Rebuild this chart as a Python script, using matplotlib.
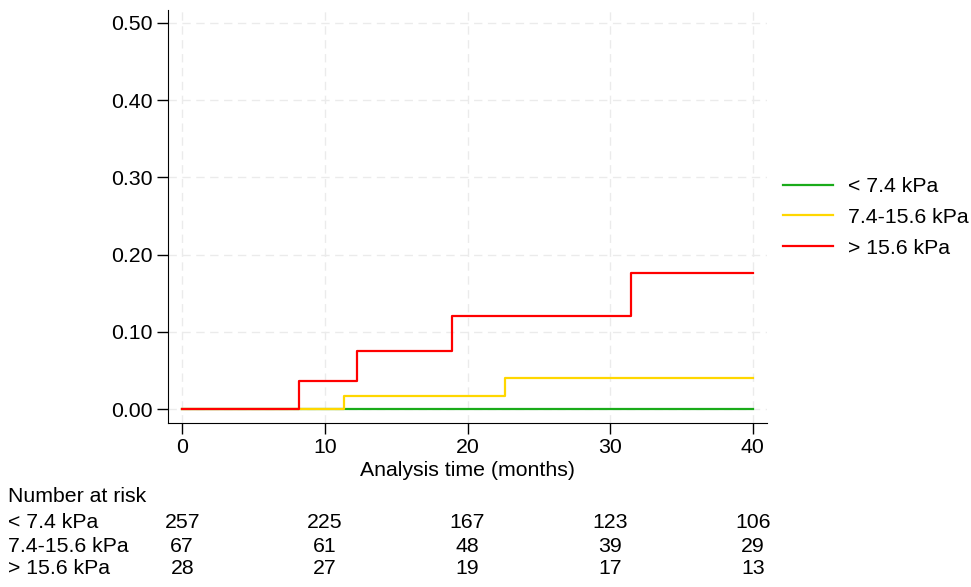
import matplotlib.pyplot as plt
import numpy as np

# ===== DATA =====
groups = ['< 7.4 kPa', '7.4-15.6 kPa', '> 15.6 kPa']
colors = ['#1aab1a', '#ffd700', '#ff0000']

# step times (months) and cumulative incidence after each step
green_t = [0, 40]
green_y = [0.0, 0.0]
yellow_t = [0, 11.35, 22.6, 40]
yellow_y = [0.0, 0.017, 0.040, 0.040]
red_t = [0, 8.2, 12.26, 18.9, 31.45, 40]
red_y = [0.0, 0.036, 0.075, 0.120, 0.176, 0.176]

risk_times = [0, 10, 20, 30, 40]
risk_counts = [
    [257, 225, 167, 123, 106],
    [67, 61, 48, 39, 29],
    [28, 27, 19, 17, 13],
]

plt.rcParams['font.family'] = ['Liberation Sans', 'DejaVu Sans']
FS = 15.3

fig = plt.figure(figsize=(9.71, 5.87), dpi=100)
ax = fig.add_axes([0.173, 0.2794, 0.617, 0.704])

series = [(green_t, green_y), (yellow_t, yellow_y), (red_t, red_y)]
for (t, y), c, g in zip(series, colors, groups):
    ax.step(t, y, where='post', color=c, lw=1.6, label=g)

ax.set_xlim(-1, 41)
ax.set_ylim(-0.018, 0.517)
ax.set_xticks(np.arange(0, 41, 10))
ax.set_yticks(np.arange(0, 0.51, 0.1))
ax.set_yticklabels([f'{v:.2f}' for v in np.arange(0, 0.51, 0.1)])
ax.tick_params(labelsize=FS, length=8, width=1, direction='out', pad=3)
ax.grid(True, color='#ebebeb', linestyle=(0, (6, 4)), lw=1)
ax.set_axisbelow(True)
for s in ['top', 'right']:
    ax.spines[s].set_visible(False)
ax.set_xlabel('Analysis time (months)', fontsize=FS, labelpad=3)

ax.legend(loc='upper left', bbox_to_anchor=(783 / 971, 1 - 177 / 587), bbox_transform=fig.transFigure,
          frameon=False, fontsize=FS, handlelength=2.35, handletextpad=0.7, labelspacing=0.56,
          borderpad=0, borderaxespad=0)

# number at risk table
fig.text(8 / 971, 1 - 496 / 587, 'Number at risk', fontsize=FS, va='center', ha='left')
row_y = [523, 546, 569]
for g, counts, ypx in zip(groups, risk_counts, row_y):
    fig.text(8 / 971, 1 - ypx / 587, g, fontsize=FS, va='center', ha='left')
    for t, n in zip(risk_times, counts):
        xf = ax.transData.transform((t, 0))[0]
        xfig = fig.transFigure.inverted().transform((xf, 0))[0]
        fig.text(xfig, 1 - ypx / 587, str(n), fontsize=FS, va='center', ha='center')

fig.savefig('out.png', dpi=100, facecolor='white')
